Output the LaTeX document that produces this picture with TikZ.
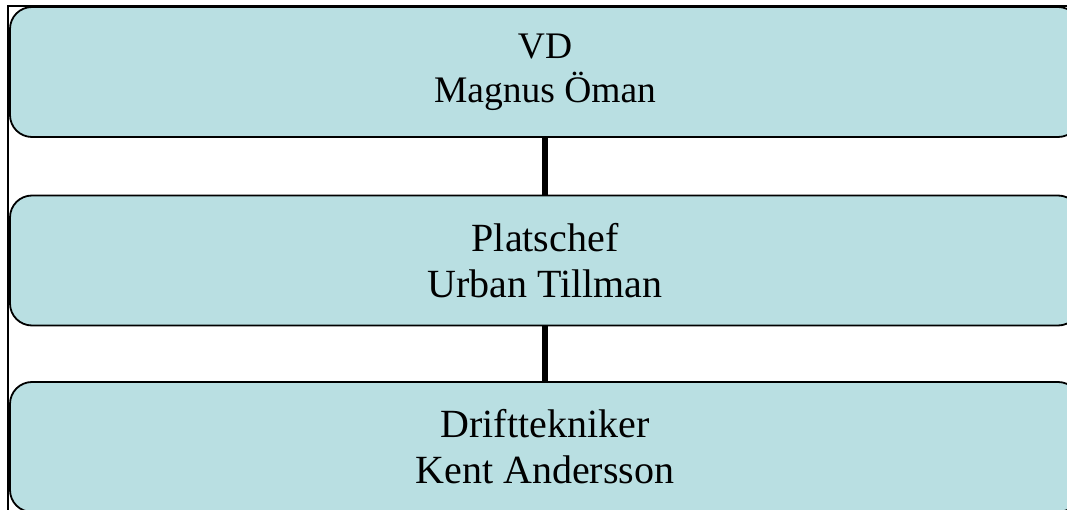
\documentclass[tikz,border=0pt]{standalone}
\usepackage{fontspec}
\setmainfont{Liberation Serif}
\definecolor{boxfill}{RGB}{185,223,226}
\begin{document}
\begin{tikzpicture}[x=1pt,y=-1pt,
  orgbox/.style={draw=black, line width=1.8pt, fill=boxfill,
    rounded corners=22pt, minimum width=1070pt, minimum height=130pt,
    align=center, inner sep=0pt},
  link/.style={draw=black, line width=5.5pt},
  frame/.style={draw=black, line width=1.5pt}]
\useasboundingbox (0,0) rectangle (1067,510);
\begin{scope}
  \clip (0,0) rectangle (1067,510);
  % outer frame of the chart
  \coordinate (fbl) at (8,520);
  \coordinate (ftl) at (8,6);
  \coordinate (ftr) at (1100,6);
  \draw[frame] (fbl) -- (ftl) -- (ftr);
  % positions
  \node[orgbox, font=\fontsize{37.5}{44}\selectfont] (vd) at (545,72) {VD\\Magnus Öman};
  \node[orgbox, font=\fontsize{40}{46}\selectfont] (pc) at (545,260.5) {Platschef\\Urban Tillman};
  \node[orgbox, font=\fontsize{40}{46}\selectfont] (dt) at (545,447) {Drifttekniker\\Kent Andersson};
  % reporting lines
  \draw[link] (vd.south) -- (pc.north);
  \draw[link] (pc.south) -- (dt.north);
\end{scope}
\end{tikzpicture}
\end{document}
